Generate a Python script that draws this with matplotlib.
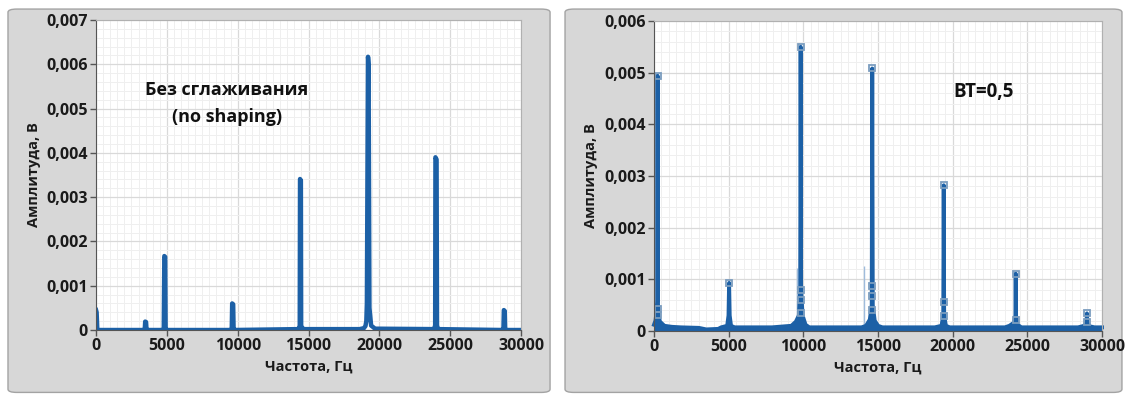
import numpy as np
import matplotlib.pyplot as plt
from matplotlib.patches import FancyBboxPatch
from matplotlib.ticker import MultipleLocator, FuncFormatter

plt.rcParams['font.family'] = ['Open Sans', 'DejaVu Sans']

# spectrum without shaping (Hz, V)
left_freq = [0, 40, 90, 3400, 3440, 3470, 3530, 3560, 3600, 4740, 4780, 4820, 4880, 4910, 4950,
             9540, 9580, 9610, 9680, 9710, 9750, 14250, 14330, 14380, 14400, 14460, 14480, 14560, 14700,
             18600, 18900, 19020, 19080, 19120, 19200, 19240, 19300, 19420, 19700,
             23850, 23940, 23960, 24040, 24070, 24150, 28720, 28760, 28790, 28850, 28880, 28920, 30000]
left_amp = [0.00045, 0.00040, 0.0, 0.0, 0.00002, 0.00019, 0.00018, 0.00002, 0.0, 0.0, 0.00002, 0.00167, 0.00165, 0.00002, 0.0,
            0.0, 0.00002, 0.00060, 0.00058, 0.00002, 0.0, 0.00002, 0.00004, 0.0001, 0.00341, 0.00338, 0.0001, 0.00004, 0.00002,
            0.00002, 0.00004, 0.00009, 0.0002, 0.0006, 0.00617, 0.006, 0.0005, 0.0001, 0.00003,
            0.00002, 0.0001, 0.0039, 0.00385, 0.0001, 0.00002, 0.0, 0.00002, 0.00045, 0.00043, 0.00002, 0.0, 0.0]

# spectrum with BT=0.5 shaping
right_freq = [0, 100, 180, 220, 240, 260, 300, 400, 700, 1200, 1800, 3000, 3500, 4300, 4500, 4900, 4990, 5030, 5070, 5160, 5400,
              7900, 9200, 9500, 9700, 9790, 9820, 9850, 9950, 10150, 10400, 13900, 14200, 14450, 14580, 14615, 14650, 14780, 15000, 15300,
              18800, 19250, 19370, 19400, 19430, 19550, 19800, 23500, 23800, 24100, 24200, 24220, 24240, 24350, 24600,
              28400, 28800, 28960, 28990, 29020, 29180, 29500, 30000]
right_amp = [0.00012, 0.0002, 0.0004, 0.0006, 0.00494, 0.0006, 0.0003, 0.00018, 0.0001, 0.00008, 0.00007, 0.00006, 0.00003, 0.00004, 0.00007, 0.0001, 0.0003, 0.00093, 0.0003, 0.0001, 0.00007,
             0.00007, 0.0001, 0.00018, 0.0003, 0.0008, 0.0055, 0.0008, 0.0003, 0.00012, 0.00007, 0.00007, 0.0001, 0.00022, 0.0005, 0.00508, 0.0005, 0.0002, 0.0001, 0.00007,
             0.00007, 0.0001, 0.0003, 0.00282, 0.0003, 0.0001, 0.00007, 0.00007, 0.0001, 0.00016, 0.0003, 0.00111, 0.0003, 0.00012, 0.00007,
             0.00007, 0.0001, 0.00016, 0.00034, 0.00016, 0.00009, 0.00007, 0.00007]
mark_freq = [240, 240, 240, 5030, 9820, 9820, 9820, 9820, 14615, 14615, 14615, 14615, 19400, 19400, 19400, 24220, 24220, 28990, 28990]
mark_amp = [0.00494, 0.00042, 0.0003, 0.00093, 0.0055, 0.00079, 0.0006, 0.00034, 0.00508, 0.00087, 0.00068, 0.0004,
            0.00282, 0.00057, 0.00028, 0.00111, 0.00022, 0.00034, 0.00017]
faint_freq = [9560, 14030]
faint_lo = [0.0003, 0.0001]
faint_hi = [0.00122, 0.00126]

blue = '#1c60a6'

fig = plt.figure(figsize=(11.26, 3.94), dpi=100)
fig.patch.set_facecolor('white')
for x0, x1 in [(0.0071, 0.4885), (0.5018, 0.9964)]:
    fig.patches.append(FancyBboxPatch((x0, 0.004), x1 - x0, 0.973, boxstyle='round,pad=0,rounding_size=0.008',
                                      transform=fig.transFigure, facecolor='#d7d7d7', edgecolor='#a3a3a3',
                                      lw=1.0, zorder=-10))

ax1 = fig.add_axes([0.0853, 0.1624, 0.3774, 0.7868])
ax2 = fig.add_axes([0.5808, 0.1600, 0.3979, 0.7868])


def fmt(v, pos):
    if abs(v) < 1e-12:
        return '0'
    return ('%.3f' % v).replace('.', ',')


for ax, ymax in [(ax1, 0.007), (ax2, 0.006)]:
    ax.set_facecolor('white')
    ax.set_xlim(0, 30000)
    ax.set_ylim(0, ymax)
    ax.xaxis.set_major_locator(MultipleLocator(5000))
    ax.xaxis.set_minor_locator(MultipleLocator(500))
    ax.yaxis.set_major_locator(MultipleLocator(0.001))
    ax.yaxis.set_minor_locator(MultipleLocator(0.0002))
    ax.yaxis.set_major_formatter(FuncFormatter(fmt))
    ax.grid(which='major', color='#d9d9d9', lw=0.9)
    ax.grid(which='minor', color='#efefef', lw=0.7)
    ax.set_axisbelow(True)
    ax.tick_params(which='major', direction='out', length=4, width=1, color='#555555',
                   labelsize=11.5, pad=2)
    ax.tick_params(which='minor', length=0)
    for lab in ax.get_xticklabels() + ax.get_yticklabels():
        lab.set_fontweight('bold')
        lab.set_color('#1a1a1a')
    for s in ['left', 'bottom']:
        ax.spines[s].set_color('#555555')
    for s in ['top', 'right']:
        ax.spines[s].set_color('#b0b0b0')
    ax.set_xlabel('Частота, Гц', fontsize=10.5, fontweight='bold', color='#1a1a1a', labelpad=4)
    ax.set_ylabel('Амплитуда, В', fontsize=10.5, fontweight='bold', color='#1a1a1a', labelpad=4)

ax1.plot(left_freq, left_amp, color=blue, lw=3.2, solid_joinstyle='round')
ax1.text(0.308, 0.73, 'Без сглаживания\n(no shaping)', transform=ax1.transAxes, ha='center', va='center',
         fontsize=13, fontweight='bold', color='#111111', linespacing=1.65)

ax2.vlines(faint_freq, faint_lo, faint_hi, color='#9fbcdc', lw=1)
ax2.fill_between(right_freq, 0, right_amp, color=blue, lw=0)
ax2.plot(right_freq, right_amp, color=blue, lw=2.8, solid_joinstyle='round', clip_on=False)
ax2.plot(mark_freq, mark_amp, ls='none', marker='s', ms=5, mfc='none', mec='#7b9dbf', mew=1.3)
ax2.text(0.735, 0.77, 'BT=0,5', transform=ax2.transAxes, ha='center', va='center',
         fontsize=13.5, fontweight='bold', color='#111111')

fig.savefig('out.png', dpi=100)
